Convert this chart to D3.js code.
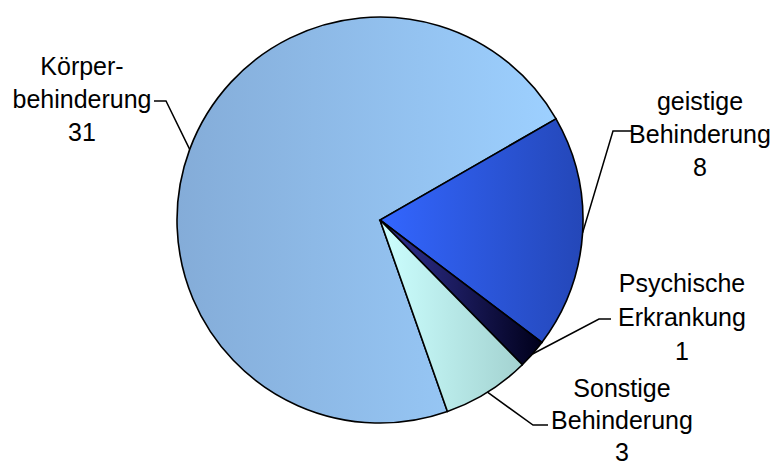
<!DOCTYPE html>
<html>
<head>
<meta charset="utf-8">
<script src="https://cdn.jsdelivr.net/npm/d3@7/dist/d3.min.js"></script>
<style>
  html, body { margin: 0; padding: 0; background: #ffffff; }
  svg { display: block; }
  text { font-family: "Liberation Sans", Arial, sans-serif; font-size: 25px; fill: #000; }
</style>
</head>
<body>
<svg id="chart" width="773" height="467"></svg>
<script>
// ---- data ----
const categories = ["Körperbehinderung", "geistige Behinderung", "Psychische Erkrankung", "Sonstige Behinderung"];
const values = [31, 8, 1, 3];
const labelLines = [
  ["Körper-", "behinderung", "31"],
  ["geistige", "Behinderung", "8"],
  ["Psychische", "Erkrankung", "1"],
  ["Sonstige", "Behinderung", "3"]
];

// ---- styles / layout ----
const gradColors = [
  ["#84acd8", "#9dd0ff"],
  ["#3366ff", "#2447b8"],
  ["#333399", "#00001a"],
  ["#ccffff", "#a3d2d0"]
];
const cx = 380, cy = 220, R = 203;
const startDeg = 160.6;
// label layout: text centre x, first baseline y, line step, elbow point, end of horizontal tick
const labelLayout = [
  { x: 82,  y: 75,  step: 33,   elbow: [166, 101], tick: [154, 101] },
  { x: 700, y: 110, step: 33,   elbow: [613, 131], tick: [632, 131] },
  { x: 682, y: 292, step: 34,   elbow: [599, 319], tick: [611, 319] },
  { x: 622, y: 397, step: 32,   elbow: [533, 425], tick: [548, 425] }
];

const svg = d3.select("#chart");
const defs = svg.append("defs");
gradColors.forEach((c, i) => {
  const g = defs.append("linearGradient")
    .attr("id", "grad" + i)
    .attr("x1", "0").attr("y1", "0").attr("x2", "1").attr("y2", "0");
  g.append("stop").attr("offset", "0%").attr("stop-color", c[0]);
  g.append("stop").attr("offset", "100%").attr("stop-color", c[1]);
});

const pie = d3.pie().sort(null)
  .startAngle(startDeg * Math.PI / 180)
  .endAngle(startDeg * Math.PI / 180 + 2 * Math.PI);
const arcs = pie(values);
const arc = d3.arc().innerRadius(0).outerRadius(R);

const gPie = svg.append("g").attr("transform", `translate(${cx},${cy})`);
gPie.selectAll("path.slice")
  .data(arcs)
  .join("path")
  .attr("class", "slice")
  .attr("d", arc)
  .attr("fill", (d, i) => `url(#grad${i})`)
  .attr("stroke", "#000")
  .attr("stroke-width", 1.6)
  .attr("stroke-linejoin", "miter");

// leader lines
const leaders = svg.append("g");
arcs.forEach((d, i) => {
  const mid = (d.startAngle + d.endAngle) / 2;
  const px = cx + R * Math.sin(mid);
  const py = cy - R * Math.cos(mid);
  const L = labelLayout[i];
  leaders.append("polyline")
    .attr("points", [[px, py], L.elbow, L.tick].map(p => p.join(",")).join(" "))
    .attr("fill", "none")
    .attr("stroke", "#000")
    .attr("stroke-width", 1.5);
});

// labels
const gLab = svg.append("g");
labelLines.forEach((lines, i) => {
  const L = labelLayout[i];
  const t = gLab.append("text")
    .attr("text-anchor", "middle")
    .attr("x", L.x).attr("y", L.y);
  lines.forEach((ln, j) => {
    t.append("tspan").attr("x", L.x).attr("dy", j === 0 ? 0 : L.step).text(ln);
  });
});
</script>
</body>
</html>
